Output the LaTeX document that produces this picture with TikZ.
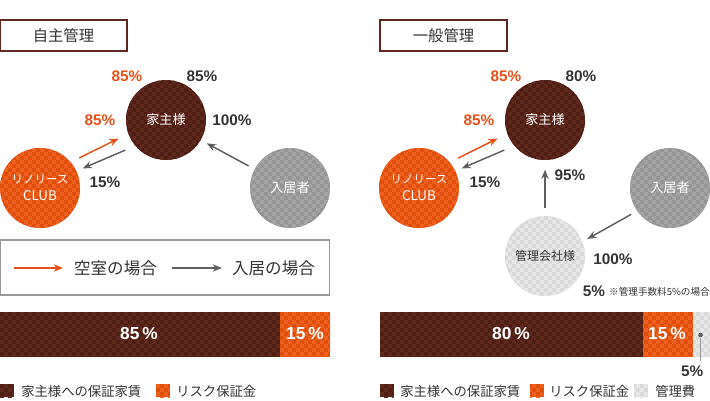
\documentclass[tikz,border=0pt]{standalone}
\usepackage{fontspec}
\newfontfamily\jpfont{Noto Sans CJK JP}
\newfontfamily\pctfont{Liberation Sans}
\usetikzlibrary{arrows.meta,patterns.meta}

\definecolor{ownerbrown}{HTML}{4E1D14}
\definecolor{ownerchk}{HTML}{5E291D}
\definecolor{cluborange}{HTML}{E04E0C}
\definecolor{clubchk}{HTML}{EE6020}
\definecolor{tenantgray}{HTML}{959595}
\definecolor{tenantchk}{HTML}{A4A4A4}
\definecolor{mgmtgray}{HTML}{D9D9D9}
\definecolor{mgmtchk}{HTML}{E7E7E7}
\definecolor{darktext}{HTML}{333333}
\definecolor{orangetext}{HTML}{E8501A}
\definecolor{arrowgray}{HTML}{5F5F5F}
\definecolor{titleframe}{HTML}{5C2A20}
\definecolor{boxframe}{HTML}{9A9A9A}

\tikzdeclarepattern{name=checks, type=uncolored,
  bottom left={(-.1pt,-.1pt)}, top right={(6.1pt,6.1pt)},
  tile size={(6pt,6pt)},
  code={\fill (0pt,0pt) rectangle (3pt,3pt); \fill (3pt,3pt) rectangle (6pt,6pt);}}

\begin{document}
\begin{tikzpicture}[x=0.75pt,y=0.75pt,yscale=-1,xscale=1,
  party/.style={circle,minimum size=60pt,inner sep=0pt,text=white,align=center,
    font=\jpfont\fontsize{9.8}{12}\selectfont},
  ownerc/.style={party,fill=ownerbrown,postaction={pattern=checks,pattern color=ownerchk}},
  clubc/.style={party,fill=cluborange,postaction={pattern=checks,pattern color=clubchk},
    font=\jpfont\fontsize{8.6}{13}\selectfont},
  tenantc/.style={party,fill=tenantgray,postaction={pattern=checks,pattern color=tenantchk}},
  mgmtc/.style={party,text=darktext,fill=mgmtgray,postaction={pattern=checks,pattern color=mgmtchk},
    font=\jpfont\fontsize{9}{11}\selectfont},
  pct/.style={text=darktext,font=\pctfont\bfseries\fontsize{11.5}{12}\selectfont},
  pcto/.style={pct,text=orangetext},
  titlebox/.style={draw=titleframe,line width=0.9pt,minimum width=95.25pt,minimum height=23.25pt,
    inner sep=0pt,text=darktext,font=\jpfont\fontsize{11.5}{13}\selectfont},
  vacant/.style={draw=orangetext,line width=1.1pt,-{Stealth[length=7pt,width=5.5pt]}},
  moved/.style={draw=arrowgray,line width=1.1pt,-{Stealth[length=7pt,width=5.5pt]}},
  barlabel/.style={text=white,font=\pctfont\bfseries\fontsize{13}{14}\selectfont},
  keytext/.style={anchor=west,inner sep=0pt,text=darktext,font=\jpfont\fontsize{10}{12}\selectfont}]
\useasboundingbox (0,0) rectangle (710,400);

%Left panel: title
\node[titlebox] (title1) at (63.5,35.5) {自主管理};
%Left panel: parties
\node[ownerc] (owner1) at (166,120) {家主様};
\node[clubc] (club1) at (40,188) {リノリース\\{\fontsize{10}{12}\selectfont CLUB}};
\node[tenantc] (tenant1) at (290,188) {入居者};
%Left panel: flows
\draw[vacant,shorten <=7pt,shorten >=8pt] (club1.40) -- (owner1.200);
\draw[moved,shorten <=8pt,shorten >=5pt] (owner1.220) -- (club1.25);
\draw[moved,shorten <=5pt,shorten >=5pt] (tenant1.152) -- (owner1.330);
% Text Node
\node[pcto] (vac1) at (127,76) {85\%};
\node[pct] (rent1) at (202,76) {85\%};
\node[pcto] (vacin1) at (100,120) {85\%};
\node[pct] (in1) at (232,120) {100\%};
\node[pct] (risk1) at (105,182) {15\%};

%Left panel: key box
\draw[boxframe,line width=0.8pt] (0,240) rectangle (329.5,295);
\coordinate (ka) at (14,268);
\coordinate (kb) at (63,268);
\coordinate (kc) at (172,268);
\coordinate (kd) at (222,268);
\draw[vacant,line width=0.9pt] (ka) -- (kb);
\draw[moved,line width=0.9pt] (kc) -- (kd);
\node[text=darktext,font=\jpfont\fontsize{12.4}{14}\selectfont] (key1) at (115.5,268) {空室の場合};
\node[text=darktext,font=\jpfont\fontsize{12.4}{14}\selectfont] (key2) at (273.5,268) {入居の場合};

%Left panel: bar
\path[fill=ownerbrown,postaction={pattern=checks,pattern color=ownerchk}] (0,312) rectangle (280,356.5);
\path[fill=cluborange,postaction={pattern=checks,pattern color=clubchk}] (280,312) rectangle (330,356.5);
\node[barlabel] (bar1a) at (139,334) {85\,\%};
\node[barlabel] (bar1b) at (305,334) {15\,\%};

%Left panel: legend
\path[fill=ownerbrown,postaction={pattern=checks,pattern color=ownerchk}] (0,384) rectangle (13.5,397);
\node[keytext] (leg1a) at (21,391) {家主様への保証家賃};
\path[fill=cluborange,postaction={pattern=checks,pattern color=clubchk}] (156,384) rectangle (169.5,397);
\node[keytext] (leg1b) at (176,391) {リスク保証金};

%Right panel: title
\node[titlebox] (title2) at (443.5,35.5) {一般管理};
%Right panel: parties
\node[ownerc] (owner2) at (545,120) {家主様};
\node[clubc] (club2) at (419,188) {リノリース\\{\fontsize{10}{12}\selectfont CLUB}};
\node[tenantc] (tenant2) at (670,188) {入居者};
\node[mgmtc] (mgmt2) at (545,256) {管理会社様};
%Right panel: flows
\draw[vacant,shorten <=7pt,shorten >=8pt] (club2.40) -- (owner2.200);
\draw[moved,shorten <=8pt,shorten >=5pt] (owner2.220) -- (club2.25);
\draw[moved,shorten <=6pt,shorten >=7pt] (mgmt2.north) -- (owner2.south);
\draw[moved,shorten <=5pt,shorten >=4pt] (tenant2.215) -- (mgmt2.21);
% Text Node
\node[pcto] (vac2) at (506,76) {85\%};
\node[pct] (rent2) at (581,76) {80\%};
\node[pcto] (vacin2) at (479,120) {85\%};
\node[pct] (risk2) at (485,182) {15\%};
\node[pct] (up2) at (570,175) {95\%};
\node[pct] (in2) at (613,259) {100\%};
\node[pct] (fee2) at (594,291) {5\%};
\node[text=darktext,font=\jpfont\fontsize{7.2}{8}\selectfont] (note2) at (659.5,292) {※管理手数料5\%の場合};

%Right panel: bar
\path[fill=ownerbrown,postaction={pattern=checks,pattern color=ownerchk}] (380,312) rectangle (643,356.5);
\path[fill=cluborange,postaction={pattern=checks,pattern color=clubchk}] (643,312) rectangle (693,356.5);
\path[fill=mgmtgray,postaction={pattern=checks,pattern color=mgmtchk}] (693,312) rectangle (709.5,356.5);
\node[barlabel] (bar2a) at (511,334) {80\,\%};
\node[barlabel] (bar2b) at (667,334) {15\,\%};
\node[circle,fill=arrowgray,inner sep=0pt,minimum size=3.5pt] (dot2) at (700.5,335) {};
\node[pct,anchor=east] (bar2c) at (708,371) {5\%};
\draw[boxframe,line width=0.6pt] (dot2) -- (700.5,361);

%Right panel: legend
\path[fill=ownerbrown,postaction={pattern=checks,pattern color=ownerchk}] (380,384) rectangle (393.5,397);
\node[keytext] (leg2a) at (400,391) {家主様への保証家賃};
\path[fill=cluborange,postaction={pattern=checks,pattern color=clubchk}] (530,384) rectangle (543.5,397);
\node[keytext] (leg2b) at (549,391) {リスク保証金};
\path[fill=mgmtgray,postaction={pattern=checks,pattern color=mgmtchk}] (634,384) rectangle (647.5,397);
\node[keytext] (leg2c) at (655,391) {管理費};

\end{tikzpicture}
\end{document}
